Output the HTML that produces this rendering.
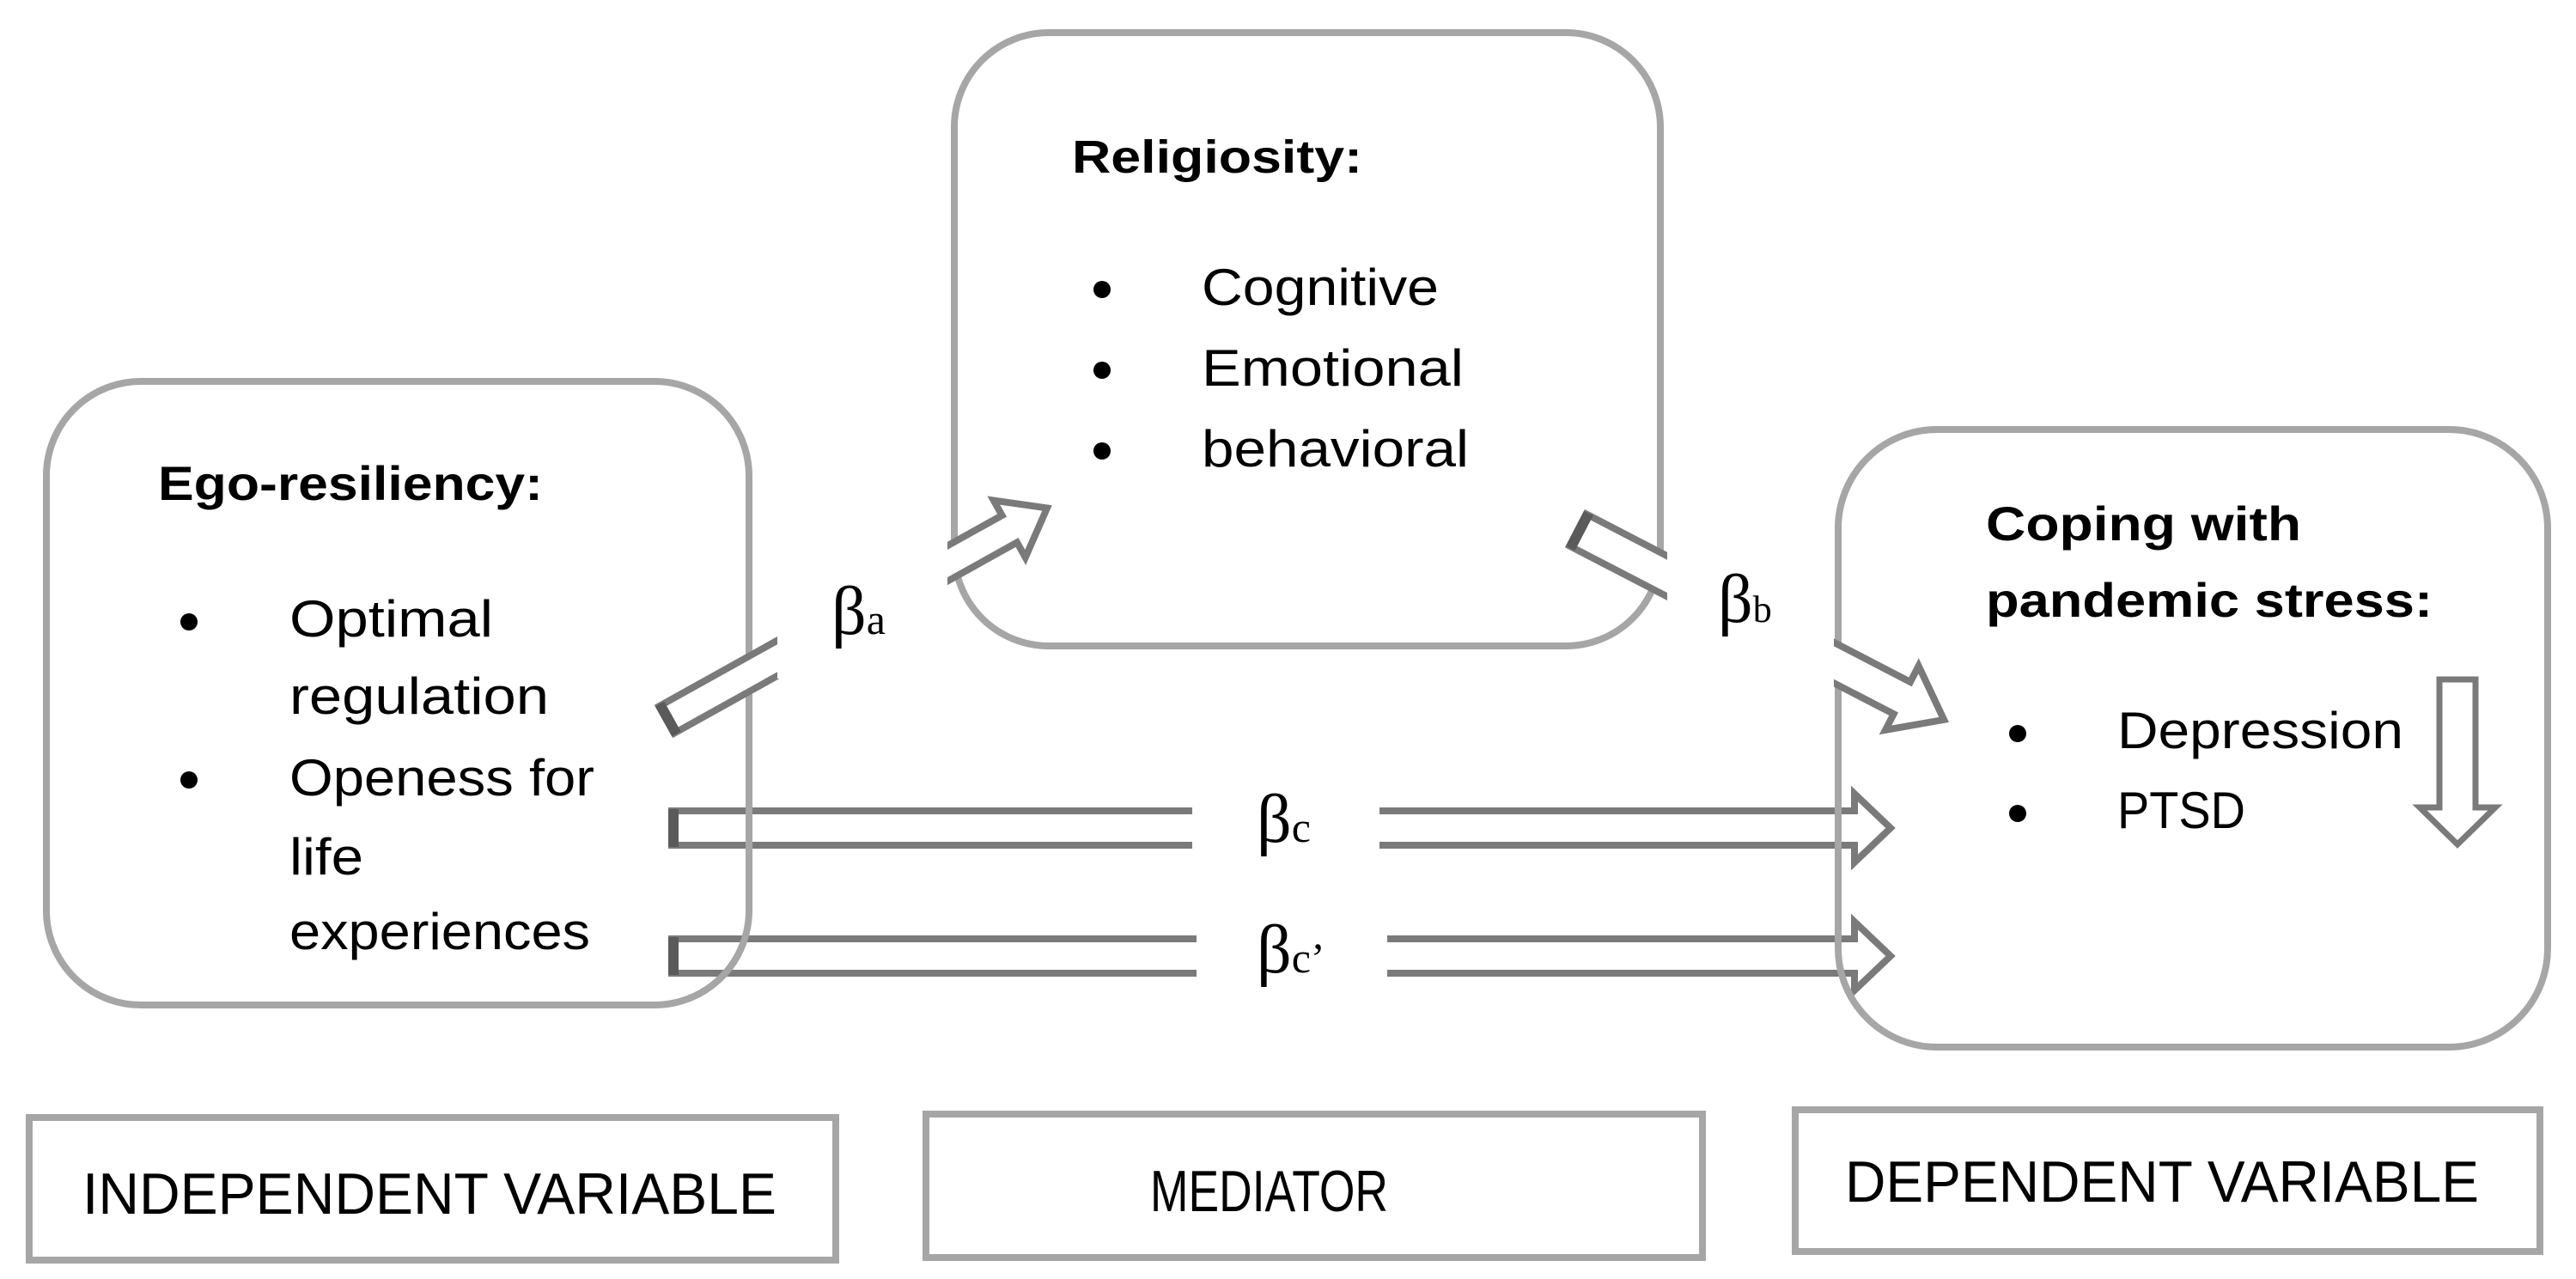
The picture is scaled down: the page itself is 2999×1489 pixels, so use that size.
<!DOCTYPE html>
<html><head><meta charset="utf-8"><style>html,body{margin:0;padding:0;background:#fff}svg{display:block}</style></head>
<body>
<svg width="2999" height="1489" viewBox="0 0 2999 1489" xmlns="http://www.w3.org/2000/svg">
<rect width="2999" height="1489" fill="#fff"/>
<g fill="#fff" stroke="#7a7a7a" stroke-width="8" stroke-linejoin="miter">
<polygon points="782,944 2159,944 2159,924 2201,964 2159,1004 2159,984 782,984"/>
<polygon points="782,1093 2159,1093 2159,1073 2201,1113 2159,1153 2159,1133 782,1133"/>
</g>
<line x1="784" y1="942" x2="784" y2="986" stroke="#5a5a5a" stroke-width="12"/>
<line x1="784" y1="1091" x2="784" y2="1135" stroke="#5a5a5a" stroke-width="12"/>
<g fill="none" stroke="#a6a6a6" stroke-width="8">
<rect x="54" y="444" width="818" height="726" rx="110" ry="110"/>
<rect x="1111" y="38" width="822" height="714" rx="110" ry="110"/>
<rect x="2140" y="500" width="826" height="719" rx="115" ry="115"/>
<rect x="34" y="1301" width="939" height="166"/>
<rect x="1078" y="1297" width="904" height="167"/>
<rect x="2090" y="1292" width="867" height="165"/>
</g>
<g transform="translate(776,838) rotate(-29.1)">
<polygon points="0,-18 457,-18 457,-38 507,0 457,38 457,18 0,18" fill="#fff" stroke="#7a7a7a" stroke-width="8"/>
<line x1="2" y1="-20" x2="2" y2="20" stroke="#5a5a5a" stroke-width="12"/>
</g>
<g transform="translate(1837,617) rotate(27.4)">
<polygon points="0,-21 425,-21 425,-42 480,0 425,42 425,21 0,21" fill="#fff" stroke="#7a7a7a" stroke-width="8"/>
<line x1="2" y1="-23" x2="2" y2="23" stroke="#5a5a5a" stroke-width="12"/>
</g>
<polygon points="2840,791 2882,791 2882,940 2905,940 2861,983 2817,940 2840,940" fill="#fff" stroke="#7a7a7a" stroke-width="7"/>
<g fill="#fff">
<rect x="905" y="600" width="198" height="190"/>
<rect x="1941" y="640" width="194" height="160"/>
<rect x="1388" y="915" width="218" height="95"/>
<rect x="1393" y="1065" width="222" height="95"/>
</g>
<g font-family="Liberation Serif, serif" fill="#000">
<text x="968" y="738" font-size="80">β<tspan font-size="50">a</tspan></text>
<text x="2000" y="724" font-size="80">β<tspan font-size="44">b</tspan></text>
<text x="1463" y="980" font-size="80">β<tspan font-size="50">c</tspan></text>
<text x="1463" y="1132" font-size="80">β<tspan font-size="50">c’</tspan></text>
</g>
<g font-family="Liberation Sans, sans-serif" fill="#000">
<text x="184" y="582" font-size="56" font-weight="bold" textLength="448" lengthAdjust="spacingAndGlyphs">Ego-resiliency:</text>
<text x="337" y="741" font-size="60" textLength="237" lengthAdjust="spacingAndGlyphs">Optimal</text>
<text x="337" y="831" font-size="60" textLength="302" lengthAdjust="spacingAndGlyphs">regulation</text>
<text x="337" y="926" font-size="60" textLength="355" lengthAdjust="spacingAndGlyphs">Openess for</text>
<text x="337" y="1018" font-size="60" textLength="86" lengthAdjust="spacingAndGlyphs">life</text>
<text x="337" y="1105" font-size="60" textLength="350" lengthAdjust="spacingAndGlyphs">experiences</text>

<text x="1248" y="201" font-size="54" font-weight="bold" textLength="338" lengthAdjust="spacingAndGlyphs">Religiosity:</text>
<text x="1399" y="355" font-size="60" textLength="276" lengthAdjust="spacingAndGlyphs">Cognitive</text>
<text x="1399" y="449" font-size="60" textLength="305" lengthAdjust="spacingAndGlyphs">Emotional</text>
<text x="1399" y="543" font-size="60" textLength="311" lengthAdjust="spacingAndGlyphs">behavioral</text>

<text x="2312" y="629" font-size="56" font-weight="bold" textLength="367" lengthAdjust="spacingAndGlyphs">Coping with</text>
<text x="2312" y="718" font-size="56" font-weight="bold" textLength="520" lengthAdjust="spacingAndGlyphs">pandemic stress:</text>
<text x="2465" y="871" font-size="60" textLength="333" lengthAdjust="spacingAndGlyphs">Depression</text>
<text x="2465" y="964" font-size="60" textLength="149" lengthAdjust="spacingAndGlyphs">PTSD</text>

<text x="96" y="1413" font-size="68" textLength="808" lengthAdjust="spacingAndGlyphs">INDEPENDENT VARIABLE</text>
<text x="1339" y="1410" font-size="68" textLength="277" lengthAdjust="spacingAndGlyphs">MEDIATOR</text>
<text x="2148" y="1399" font-size="68" textLength="738" lengthAdjust="spacingAndGlyphs">DEPENDENT VARIABLE</text>
</g>
<g fill="#000">
<circle cx="220" cy="724" r="10"/>
<circle cx="220" cy="908" r="10"/>
<circle cx="1283" cy="337" r="10"/>
<circle cx="1283" cy="431" r="10"/>
<circle cx="1283" cy="525" r="10"/>
<circle cx="2349" cy="854" r="10"/>
<circle cx="2349" cy="947" r="10"/>
</g>
</svg>
</body></html>
